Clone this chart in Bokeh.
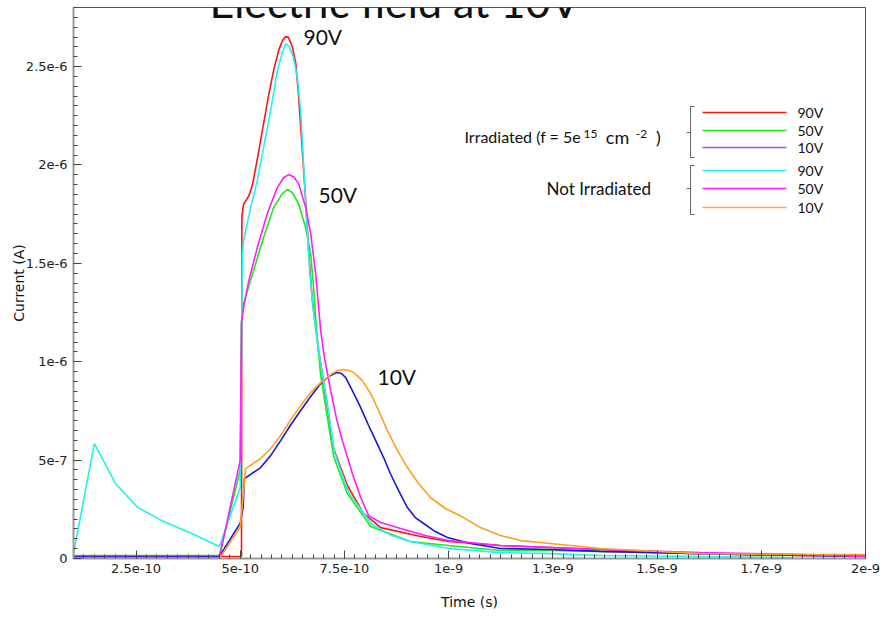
from bokeh.plotting import figure
from bokeh.models import Range1d, FixedTicker, Label
from bokeh.embed import file_html
from bokeh.resources import INLINE

# ---------------- data (time in s, current in A) ----------------
red_t = [1.0e-10, 4.5e-10, 4.55e-10, 4.98e-10, 5.03e-10, 5.04e-10, 5.08e-10, 5.2e-10, 5.29e-10,
         5.41e-10, 5.53e-10, 5.68e-10, 5.8e-10, 5.92e-10, 6.01e-10, 6.09e-10, 6.16e-10, 6.25e-10,
         6.33e-10, 6.4e-10, 6.49e-10, 6.57e-10, 6.64e-10, 6.73e-10, 6.88e-10, 7.05e-10, 7.24e-10,
         7.57e-10, 7.96e-10, 8.37e-10, 9.33e-10, 1.0e-9, 1.124e-9, 1.244e-9, 1.364e-9, 1.604e-9,
         1.844e-9, 2.0e-9]
red_i = [5e-9, 5e-9, 1e-8, 1e-8, 1e-8, 1.74e-6, 1.80e-6, 1.84e-6, 1.895e-6,
         2.03e-6, 2.174e-6, 2.352e-6, 2.479e-6, 2.581e-6, 2.631e-6, 2.652e-6, 2.647e-6, 2.6e-6,
         2.52e-6, 2.352e-6, 2.07e-6, 1.82e-6, 1.565e-6, 1.31e-6, 1.057e-6, 8.28e-7, 5.59e-7,
         3.71e-7, 2.29e-7, 1.57e-7, 1.12e-7, 8.6e-8, 6.6e-8, 5.6e-8, 4.6e-8, 2.5e-8,
         1.5e-8, 1.5e-8]

green_t = [1.0e-10, 4.5e-10, 5.0e-10, 5.03e-10, 5.08e-10, 5.32e-10, 5.56e-10, 5.8e-10, 6.01e-10,
           6.13e-10, 6.25e-10, 6.4e-10, 6.57e-10, 6.69e-10, 6.76e-10, 6.83e-10, 6.93e-10, 7.05e-10,
           7.24e-10, 7.57e-10, 8.13e-10, 9.08e-10, 1.0e-9, 1.124e-9, 1.244e-9, 1.364e-9, 1.604e-9,
           1.844e-9, 2.0e-9]
green_i = [1.5e-8, 1.5e-8, 4.5e-7, 1.2e-6, 1.295e-6, 1.463e-6, 1.631e-6, 1.783e-6, 1.854e-6,
           1.875e-6, 1.859e-6, 1.803e-6, 1.681e-6, 1.549e-6, 1.377e-6, 1.158e-6, 9.3e-7, 7.7e-7,
           5.2e-7, 3.3e-7, 1.63e-7, 8.6e-8, 6.6e-8, 4.1e-8, 4.1e-8, 3.6e-8, 2.5e-8,
           2.0e-8, 1.5e-8]

blue_t = [1.0e-10, 4.5e-10, 5.0e-10, 5.07e-10, 5.1e-10, 5.49e-10, 5.73e-10, 5.97e-10, 6.2e-10,
          6.45e-10, 6.69e-10, 6.93e-10, 7.12e-10, 7.31e-10, 7.43e-10, 7.53e-10, 7.69e-10, 7.89e-10,
          8.08e-10, 8.25e-10, 8.44e-10, 8.6e-10, 8.8e-10, 9.01e-10, 9.2e-10, 9.4e-10, 9.68e-10,
          9.97e-10, 1.052e-9, 1.124e-9, 1.244e-9, 1.364e-9, 1.604e-9, 1.844e-9, 2.0e-9]
blue_i = [1e-8, 1e-8, 1.8e-7, 2.6e-7, 4.06e-7, 4.62e-7, 5.23e-7, 5.99e-7, 6.76e-7,
          7.52e-7, 8.23e-7, 8.89e-7, 9.25e-7, 9.45e-7, 9.4e-7, 9.19e-7, 8.53e-7, 7.67e-7,
          6.76e-7, 5.99e-7, 5.13e-7, 4.32e-7, 3.45e-7, 2.59e-7, 2.08e-7, 1.78e-7, 1.37e-7,
          1.07e-7, 7.6e-8, 5.1e-8, 4.6e-8, 3.6e-8, 2.5e-8, 1.5e-8, 1.0e-8]

cyan_t = [1.0e-10, 1.5e-10, 2.01e-10, 2.54e-10, 3.14e-10, 3.81e-10, 4.5e-10, 5.0e-10, 5.05e-10,
          5.08e-10, 5.25e-10, 5.41e-10, 5.56e-10, 5.73e-10, 5.89e-10, 6.01e-10, 6.09e-10, 6.18e-10,
          6.28e-10, 6.37e-10, 6.45e-10, 6.52e-10, 6.6e-10, 6.67e-10, 6.76e-10, 6.9e-10, 7.07e-10,
          7.26e-10, 7.59e-10, 8.15e-10, 8.6e-10, 9.08e-10, 1.0e-9, 1.124e-9, 1.244e-9, 1.364e-9,
          1.604e-9, 1.825e-9]
cyan_i = [2.5e-8, 5.84e-7, 3.8e-7, 2.6e-7, 1.9e-7, 1.3e-7, 6.1e-8, 3.6e-7, 1.55e-6,
          1.615e-6, 1.783e-6, 1.92e-6, 2.088e-6, 2.276e-6, 2.479e-6, 2.57e-6, 2.616e-6, 2.6e-6,
          2.545e-6, 2.443e-6, 2.276e-6, 2.0e-6, 1.7e-6, 1.45e-6, 1.25e-6, 1.03e-6, 8.1e-7,
          5.4e-7, 3.4e-7, 1.75e-7, 1.2e-7, 8.6e-8, 5.1e-8, 3.0e-8, 2.5e-8, 1.5e-8,
          1.0e-8, 5e-9]

mag_t = [1.0e-10, 4.5e-10, 5.0e-10, 5.03e-10, 5.08e-10, 5.2e-10, 5.41e-10, 5.65e-10, 5.89e-10,
         6.04e-10, 6.16e-10, 6.28e-10, 6.4e-10, 6.57e-10, 6.69e-10, 6.81e-10, 6.93e-10, 7.02e-10,
         7.17e-10, 7.31e-10, 7.45e-10, 7.69e-10, 7.89e-10, 8.08e-10, 8.37e-10, 8.85e-10, 9.44e-10,
         1.0e-9, 1.124e-9, 1.244e-9, 1.364e-9, 1.604e-9, 1.844e-9, 2.0e-9]
mag_i = [5e-9, 5e-9, 5.0e-7, 1.2e-6, 1.275e-6, 1.407e-6, 1.58e-6, 1.753e-6, 1.885e-6,
         1.935e-6, 1.951e-6, 1.94e-6, 1.905e-6, 1.783e-6, 1.651e-6, 1.448e-6, 1.158e-6, 1.021e-6,
         8.53e-7, 7.11e-7, 5.99e-7, 4.32e-7, 3.1e-7, 2.18e-7, 1.83e-7, 1.52e-7, 1.17e-7,
         9.1e-8, 6.6e-8, 5.6e-8, 4.6e-8, 3.0e-8, 2.0e-8, 1.0e-8]

orange_t = [1.0e-10, 4.5e-10, 5.0e-10, 5.13e-10, 5.49e-10, 5.73e-10, 5.97e-10, 6.2e-10, 6.45e-10,
            6.69e-10, 6.93e-10, 7.17e-10, 7.33e-10, 7.48e-10, 7.6e-10, 7.72e-10, 7.93e-10, 8.13e-10,
            8.32e-10, 8.53e-10, 8.77e-10, 9.01e-10, 9.28e-10, 9.56e-10, 9.92e-10, 1.036e-9,
            1.076e-9, 1.124e-9, 1.172e-9, 1.244e-9, 1.364e-9, 1.46e-9, 1.604e-9, 1.844e-9, 2.0e-9]
orange_i = [0.0, 0.0, 1.6e-7, 4.57e-7, 5.08e-7, 5.59e-7, 6.25e-7, 7.01e-7, 7.77e-7,
            8.43e-7, 8.94e-7, 9.35e-7, 9.55e-7, 9.6e-7, 9.55e-7, 9.45e-7, 9.04e-7, 8.38e-7,
            7.52e-7, 6.5e-7, 5.49e-7, 4.62e-7, 3.81e-7, 3.1e-7, 2.54e-7, 2.08e-7,
            1.57e-7, 1.17e-7, 9.1e-8, 7.6e-8, 5.1e-8, 4.1e-8, 2.5e-8, 2.0e-8, 2.0e-8]

x_ticks = [2.5e-10, 5e-10, 7.5e-10, 1e-9, 1.25e-9, 1.5e-9, 1.75e-9, 2e-9]
x_tick_labels = ["2.5e-10", "5e-10", "7.5e-10", "1e-9", "1.3e-9", "1.5e-9", "1.7e-9", "2e-9"]
y_ticks = [0, 5e-7, 1e-6, 1.5e-6, 2e-6, 2.5e-6]
y_tick_labels = ["0", "5e-7", "1e-6", "1.5e-6", "2e-6", "2.5e-6"]

legend_volts = ["90V", "50V", "10V", "90V", "50V", "10V"]
title_text = "Electric field at 10V"

# ---------------- styling ----------------
C_RED, C_GREEN, C_BLUE = "#ff1414", "#1ee81e", "#1616e0"
C_CYAN, C_MAG, C_ORANGE = "#1ff2f2", "#ff1cff", "#ffa01e"
LEG_COLORS = [C_RED, C_GREEN, "#6a6af2", C_CYAN, C_MAG, "#ffa648"]

X0, X1 = 1e-10, 2e-9
Y0, Y1 = 0.0, 2.8e-6
FL, FT, FW, FH = 73, 7, 792, 551


def dx(px):
    return X0 + (px - FL) / FW * (X1 - X0)


def dy(py):
    return Y1 - (py - FT) / FH * (Y1 - Y0)


p = figure(width=884, height=620, output_backend="svg", toolbar_location=None,
           x_range=Range1d(X0, X1), y_range=Range1d(Y0, Y1),
           min_border_left=FL, min_border_right=884 - FL - FW,
           min_border_top=FT, min_border_bottom=620 - FT - FH)
p.background_fill_color = "white"
p.border_fill_color = "white"
p.outline_line_color = "#555555"
p.outline_line_width = 1
p.xgrid.visible = False
p.ygrid.visible = False

minor_x = [X0 + k * 2.5e-11 for k in range(0, 77)]
minor_y = [k * 5e-8 for k in range(0, 57)]
p.xaxis.ticker = FixedTicker(ticks=x_ticks, minor_ticks=minor_x)
p.yaxis.ticker = FixedTicker(ticks=y_ticks, minor_ticks=minor_y)
p.xaxis.major_label_overrides = {t: s for t, s in zip(x_ticks, x_tick_labels)}
p.yaxis.major_label_overrides = {t: s for t, s in zip(y_ticks, y_tick_labels)}

for ax in (p.xaxis[0], p.yaxis[0]):
    ax.axis_line_color = "#9a9a9a"
    ax.axis_line_width = 2
    ax.major_tick_in = 8
    ax.major_tick_out = 0
    ax.minor_tick_in = 4
    ax.minor_tick_out = 0
    ax.major_tick_line_color = "#444444"
    ax.minor_tick_line_color = "#444444"
    ax.major_label_text_font = "DejaVu Sans"
    ax.major_label_text_font_size = "13px"
    ax.major_label_text_color = "#222222"
    ax.axis_label_text_font = "DejaVu Sans"
    ax.axis_label_text_font_size = "14px"
    ax.axis_label_text_font_style = "normal"
    ax.axis_label_text_color = "#111111"

p.xaxis.axis_label = "Time (s)"
p.yaxis.axis_label = "Current (A)"
p.xaxis.major_label_standoff = 5
p.xaxis.axis_label_standoff = 18
p.yaxis.major_label_standoff = 6
p.yaxis.axis_label_standoff = -4

LW = 1.6
p.line(red_t, red_i, line_color=C_RED, line_width=LW)
p.line(green_t, green_i, line_color=C_GREEN, line_width=LW)
p.line(blue_t, blue_i, line_color=C_BLUE, line_width=LW)
p.line(cyan_t, cyan_i, line_color=C_CYAN, line_width=LW)
p.line(mag_t, mag_i, line_color=C_MAG, line_width=LW)
p.line(orange_t, orange_i, line_color=C_ORANGE, line_width=LW)

# ---------------- custom legend ----------------
leg_py = [112, 130, 147, 170, 188, 207]
p.segment(x0=[dx(702)] * 6, y0=[dy(v) for v in leg_py],
          x1=[dx(786)] * 6, y1=[dy(v) for v in leg_py],
          line_color=LEG_COLORS, line_width=1.5)
for lab_txt, py in zip(legend_volts, leg_py):
    p.add_layout(Label(x=dx(797), y=dy(py), text=lab_txt, text_font="Lato",
                       text_font_size="14px", text_color="#111111",
                       text_align="left", text_baseline="middle"))

# brackets
for top, bot, mid in [(106, 157, 132), (165, 214, 188)]:
    p.line([dx(694), dx(690), dx(690), dx(694)], [dy(top), dy(top), dy(bot), dy(bot)],
           line_color="#666666", line_width=1)
    p.line([dx(686), dx(690)], [dy(mid), dy(mid)], line_color="#666666", line_width=1)

GF = "Lato"


def lab(px, py, text, size, align="left", base="alphabetic"):
    p.add_layout(Label(x=dx(px), y=dy(py), text=text, text_font=GF, text_font_size=size,
                       text_color="#111111", text_align=align, text_baseline=base))


lab(464, 136, "Irradiated (f = 5e", "16px")
lab(590, 133, "15", "12px", align="center")
lab(617, 136, "cm", "18px", align="center")
lab(641, 133, "-2", "12px", align="center")
lab(658, 136, ")", "18px", align="center")
lab(546, 188, "Not Irradiated", "17px")

# curve annotations
lab(303, 36, "90V", "21px")
lab(318, 194, "50V", "21px")
lab(377, 376, "10V", "21px")

# title (cut off at the top of the image, as in the original slide)
lab(394, 26, title_text, "43px", align="center", base="bottom")

open("out.html", "w").write(file_html(p, INLINE))
